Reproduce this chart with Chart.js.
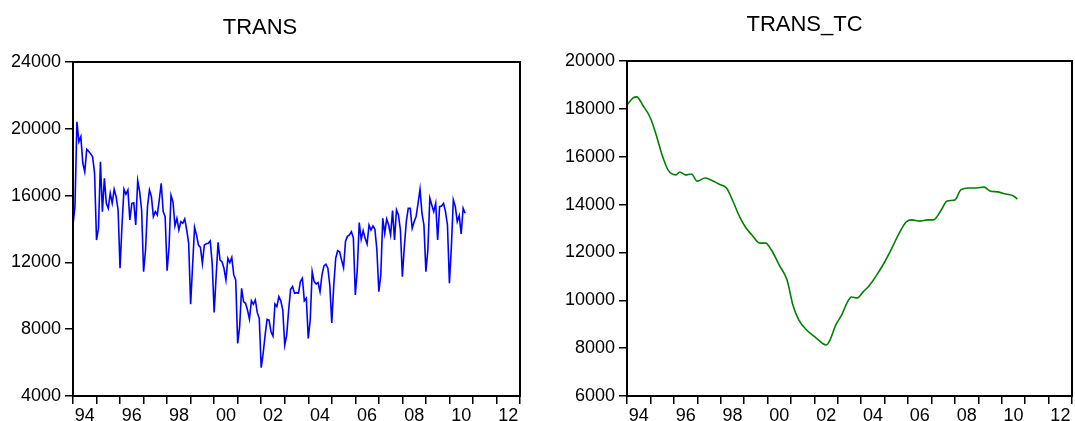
<!DOCTYPE html>
<html>
<head>
<meta charset="utf-8">
<script src="https://cdn.jsdelivr.net/npm/chart.js@4.4.1/dist/chart.umd.min.js"></script>
<style>
  html, body { margin: 0; padding: 0; background: #fff; }
  #wrap { position: relative; width: 1075px; height: 421px; overflow: hidden; }
  .pane { position: absolute; top: 0; height: 421px; }
  #pL { left: 0; width: 537px; }
  #pR { left: 537px; width: 538px; }
</style>
</head>
<body>
<div id="wrap">
  <div class="pane" id="pL"><canvas id="cL"></canvas></div>
  <div class="pane" id="pR"><canvas id="cR"></canvas></div>
</div>
<script>
// Monthly series starting January 1994
const startYear = 1994;
const trans = [
  14240, 15340, 20420, 19230, 19530, 17950, 17430, 18770, 18650, 18500, 18330, 17350,
  13340, 14040, 18030, 15040, 17030, 15540, 15240, 16140, 15540, 16380, 15930, 15140,
  11650, 14240, 16380, 16080, 16340, 14540, 15540, 15570, 14240, 16890, 16240, 15140,
  11440, 12740, 15340, 16340, 15940, 14740, 15040, 14840, 15740, 16740, 15040, 14740,
  11500, 12940, 16020, 15630, 14180, 14640, 13940, 14440, 14340, 14600, 13940, 13140,
  9500, 11800, 14100, 13640, 13040, 12900, 11940, 13040, 13120, 13140, 13280, 11950,
  9000, 11150, 13200, 12140, 12040, 11650, 10950, 12240, 11980, 12300, 11250, 10950,
  7150, 8150, 10450, 9650, 9550, 9150, 8610, 9700, 9490, 9750, 8990, 8650,
  5700, 6560, 7650, 8590, 8550, 7850, 7590, 9510, 9350, 9950, 9700, 9150,
  7050, 7650, 9150, 10390, 10550, 10150, 10190, 10150, 10850, 11050, 9700, 9850,
  7450, 8550, 11450, 10850, 10710, 10790, 10250, 11250, 11790, 11890, 11650, 10620,
  8380, 10620, 12240, 12700, 12640, 12140, 11680, 13270, 13560, 13640, 13840, 13470,
  10050, 11550, 14380, 13380, 13900, 13440, 13100, 14240, 13940, 14180, 13980, 12740,
  10250, 11250, 14640, 13740, 14600, 14240, 13640, 15100, 13340, 15140, 14840, 13940,
  11150, 12940, 14440, 15240, 15240, 14040, 14440, 14740, 15540, 16380, 14940, 14240,
  11440, 12740, 15840, 15440, 15040, 15540, 13340, 15340, 15380, 15540, 15040, 14240,
  10750, 12940, 15740, 15340, 14440, 14800, 13700, 15240, 14940
];

// Trend-cycle component: month offsets from January 1994 and values
const tcMonth = [0, 3, 5, 8, 12, 15, 18, 21, 25, 27, 30, 33, 36, 40, 43, 47, 51, 54, 58, 61,
  64, 68, 71, 74, 78, 82, 85, 88, 92, 97, 100, 102, 104, 107, 110, 113, 115, 118, 121, 124,
  128, 132, 136, 139, 143, 146, 150, 154, 157, 161, 164, 168, 171, 175, 179, 183, 186, 190,
  194, 198, 200];
const tcValue = [18160, 18450, 18500, 18160, 17620, 16900, 16070, 15450, 15240, 15360, 15240,
  15280, 14980, 15110, 15030, 14860, 14690, 14190, 13440, 13020, 12730, 12390, 12390, 12100,
  11470, 10850, 9800, 9180, 8760, 8420, 8210, 8130, 8340, 8970, 9390, 9930, 10140, 10100,
  10350, 10600, 11060, 11600, 12230, 12730, 13270, 13360, 13310, 13360, 13360, 13770, 14150,
  14190, 14610, 14690, 14690, 14730, 14570, 14530, 14440, 14360, 14230];

// Axis ticks
const xYears = [1994, 1996, 1998, 2000, 2002, 2004, 2006, 2008, 2010, 2012];
const xLabels = ['94', '96', '98', '00', '02', '04', '06', '08', '10', '12'];
const xMin = 1994, xMax = 2013;
const yTicksL = [4000, 8000, 12000, 16000, 20000, 24000];
const yTicksR = [6000, 8000, 10000, 12000, 14000, 16000, 18000, 20000];

const FONT = "'Liberation Sans', Arial, Helvetica, sans-serif";

const framePlugin = {
  id: 'frame',
  afterDraw(chart) {
    const a = chart.chartArea, c = chart.ctx;
    c.save();
    c.strokeStyle = '#000';
    c.lineWidth = 2;
    c.strokeRect(a.left, a.top, a.right - a.left, a.bottom - a.top);
    c.restore();
  }
};

function makeChart(id, title, points, color, yTicks, yAxisWidth, padRight, titlePad) {
  return new Chart(document.getElementById(id), {
    type: 'line',
    data: {
      datasets: [{
        data: points,
        borderColor: color,
        borderWidth: 1.6,
        pointRadius: 0,
        fill: false,
        cubicInterpolationMode: id === 'cR' ? 'monotone' : 'default',
        tension: 0
      }]
    },
    options: {
      responsive: true,
      maintainAspectRatio: false,
      animation: false,
      events: [],
      layout: { padding: { left: 0, right: padRight, top: 0, bottom: 0 } },
      plugins: {
        legend: { display: false },
        tooltip: { enabled: false },
        title: {
          display: true,
          text: title,
          color: '#000',
          font: { family: FONT, size: 22, weight: 'normal' },
          padding: titlePad
        }
      },
      scales: {
        x: {
          type: 'linear',
          min: xMin,
          max: xMax,
          border: { display: false },
          grid: { drawOnChartArea: false, drawTicks: true, tickLength: 8, color: '#000', lineWidth: 1.5 },
          afterBuildTicks(s) {
            const t = [];
            for (let y = xMin; y <= xMax; y++) t.push({ value: y });
            s.ticks = t;
          },
          afterFit(s) { s.height = 25; },
          ticks: {
            autoSkip: false,
            maxRotation: 0,
            padding: 1,
            labelOffset: 11.8,
            color: '#000',
            font: { family: FONT, size: 18 },
            callback(v) {
              const k = xYears.indexOf(v);
              return k >= 0 ? xLabels[k] : '';
            }
          }
        },
        y: {
          min: yTicks[0],
          max: yTicks[yTicks.length - 1],
          border: { display: false },
          grid: { drawOnChartArea: false, drawTicks: true, tickLength: 8, color: '#000', lineWidth: 1.5 },
          afterBuildTicks(s) { s.ticks = yTicks.map(v => ({ value: v })); },
          afterFit(s) { s.width = yAxisWidth; },
          ticks: {
            padding: 4,
            color: '#000',
            font: { family: FONT, size: 18 },
            callback(v) { return String(v); }
          }
        }
      }
    },
    plugins: [framePlugin]
  });
}

const transPts = trans.map((v, i) => ({ x: startYear + i / 12, y: v }));
const tcPts = tcMonth.map((m, i) => ({ x: startYear + m / 12, y: tcValue[i] }));

makeChart('cL', 'TRANS', transPts, '#0000ff', yTicksL, 73, 17, { top: 15, bottom: 20.6 });
makeChart('cR', 'TRANS_TC', tcPts, '#008000', yTicksR, 90, 3, { top: 12, bottom: 22.6 });
</script>
</body>
</html>
